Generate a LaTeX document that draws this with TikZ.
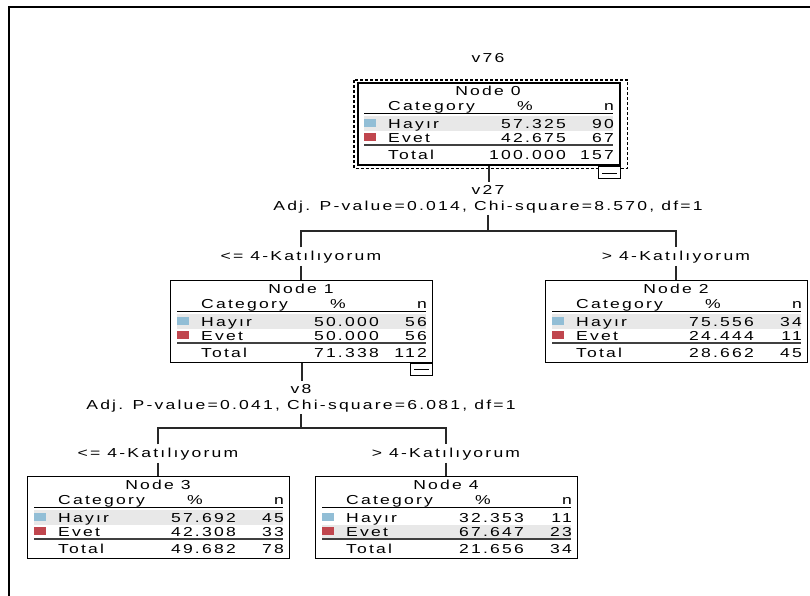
\documentclass[tikz,border=0pt]{standalone}
\usepackage{fontspec}
\setmainfont{Liberation Sans}[FakeStretch=1.35, LetterSpace=17]
\usetikzlibrary{calc}

\definecolor{hayc}{RGB}{146,190,214}
\definecolor{evetc}{RGB}{192,70,78}
\definecolor{rowbg}{RGB}{232,232,232}
\definecolor{edgec}{RGB}{40,40,40}

\tikzset{
  txt/.style={font=\fontsize{13}{15}\selectfont, inner sep=0pt, text=black},
  lbl/.style={font=\fontsize{13}{15}\selectfont, inner sep=3pt, text=black},
  tbox/.style={draw=black, line width=1pt, rectangle, minimum width=262pt,
               minimum height=82pt, inner sep=0pt, fill=white},
  selbox/.style={tbox, line width=2.4pt},
  minusbox/.style={draw=black, line width=1pt, fill=white, minimum width=22pt,
                   minimum height=12pt, inner sep=0pt},
  focus/.style={draw=black, line width=1.2pt, dash pattern=on 3pt off 2pt},
  conn/.style={draw=edgec, line width=2pt},
  hdrline/.style={draw=black, line width=0.9pt},
  sepline/.style={draw=black!75, line width=1.1pt},
}

% which category row is shaded: 1 = Hayır, 2 = Evet
\def\hlrow{1}

% table contents of a tree node; #1 = box node name, #2 = top-left corner,
% #3 = node number, #4/#5 Hayır %/n, #6/#7 Evet %/n, #8/#9 total %/n
\newcommand\ctcontents[9]{%
  \begin{scope}[shift={(#2)}]
    \ifnum\hlrow=1
      \fill[rowbg] (7,34) rectangle (256,49);
    \else
      \fill[rowbg] (7,49) rectangle (256,63);
    \fi
    \draw[hdrline] (7,31) -- (256,31);
    \draw[sepline] (7,63) -- (256,63);
    \fill[hayc] (7,37) rectangle (19,45);
    \fill[evetc] (7,51) rectangle (19,59);
    \node[txt, anchor=base] at (131,13.5) {Node #3};
    \node[txt, anchor=base west] at (31,28.5) {Category};
    \node[txt, anchor=base] at (168,28.5) {\%};
    \node[txt, anchor=base east] at (257,28.5) {n};
    \node[txt, anchor=base west] at (31,46.5) {Hayır};
    \node[txt, anchor=base east] at (209,46.5) {#4};
    \node[txt, anchor=base east] at (257,46.5) {#5};
    \node[txt, anchor=base west] at (31,60.5) {Evet};
    \node[txt, anchor=base east] at (209,60.5) {#6};
    \node[txt, anchor=base east] at (257,60.5) {#7};
    \node[txt, anchor=base west] at (31,77.5) {Total};
    \node[txt, anchor=base east] at (209,77.5) {#8};
    \node[txt, anchor=base east] at (257,77.5) {#9};
  \end{scope}}

\begin{document}
\begin{tikzpicture}[x=1pt, y=-1pt]
  \useasboundingbox (0,0) rectangle (810,596);
  \fill[white] (0,0) rectangle (810,596);

  % outer frame of the viewer
  \draw[line width=2pt] (9,597) -- (9,7) -- (811,7);

  % dependent variable
  \node[lbl, anchor=base] (dep) at (488,62.5) {v76};

  % ---- boxes ----
  \node[selbox, anchor=north west] (n0) at (357,82) {};
  \ctcontents{n0}{357,82}{0}{57.325}{90}{42.675}{67}{100.000}{157}
  \draw[focus] ($(n0.north west)+(-3,-2)$) rectangle ($(n0.south east)+(6,2)$);
  \node[minusbox, anchor=north east] (m0) at (n0.south east) {};
  \draw[line width=1pt] ($(m0.west)+(4,1)$) -- ($(m0.east)+(-4,1)$);

  \node[tbox, anchor=north west] (n1) at (170,280) {};
  \ctcontents{n1}{170,280}{1}{50.000}{56}{50.000}{56}{71.338}{112}
  \node[minusbox, anchor=north east] (m1) at (n1.south east) {};
  \draw[line width=1pt] ($(m1.west)+(4,0)$) -- ($(m1.east)+(-4,0)$);

  \node[tbox, anchor=north west] (n2) at (545,280) {};
  \ctcontents{n2}{545,280}{2}{75.556}{34}{24.444}{11}{28.662}{45}

  \node[tbox, anchor=north west] (n3) at (27,476) {};
  \ctcontents{n3}{27,476}{3}{57.692}{45}{42.308}{33}{49.682}{78}

  \def\hlrow{2}
  \node[tbox, anchor=north west] (n4) at (315,476) {};
  \ctcontents{n4}{315,476}{4}{32.353}{11}{67.647}{23}{21.656}{34}

  % ---- split labels ----
  \node[lbl, anchor=base] (v27) at (488,194.5) {v27};
  \node[lbl, anchor=base, inner sep=2pt] (s0) at (488,210) {Adj. P-value=0.014, Chi-square=8.570, df=1};
  \node[lbl, anchor=base] (b1) at (301,260) {<= 4-Katılıyorum};
  \node[lbl, anchor=base] (b2) at (676,260) {> 4-Katılıyorum};
  \coordinate (j0) at (488,231);

  \node[lbl, anchor=base] (v8) at (301,393) {v8};
  \node[lbl, anchor=base, inner sep=2pt] (s1) at (301,409.5) {Adj. P-value=0.041, Chi-square=6.081, df=1};
  \node[lbl, anchor=base] (b3) at (158,457) {<= 4-Katılıyorum};
  \node[lbl, anchor=base] (b4) at (446,457) {> 4-Katılıyorum};
  \coordinate (j1) at (301,428);

  % ---- connectors (kept strictly vertical / horizontal) ----
  \draw[conn] (n0.south) -- (n0.south |- v27.north);
  \draw[conn] (j0 |- s0.south) -- (j0);
  \draw[conn] (b1.north) |- (j0) -| (b2.north);
  \draw[conn] (b1.south) -- (b1.south |- n1.north);
  \draw[conn] (b2.south) -- (b2.south |- n2.north);

  \draw[conn] (n1.south) -- (n1.south |- v8.north);
  \draw[conn] (j1 |- s1.south) -- (j1);
  \draw[conn] (b3.north) |- (j1) -| (b4.north);
  \draw[conn] (b3.south) -- (b3.south |- n3.north);
  \draw[conn] (b4.south) -- (b4.south |- n4.north);
\end{tikzpicture}
\end{document}
